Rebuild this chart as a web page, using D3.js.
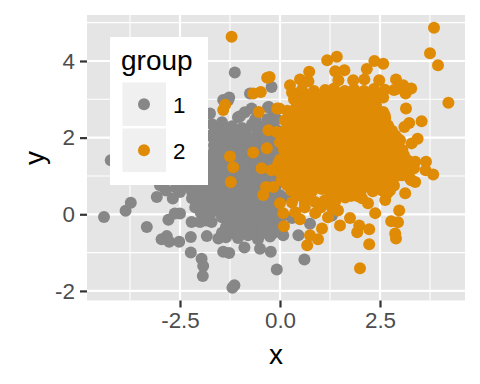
<!DOCTYPE html>
<html>
<head>
<meta charset="utf-8">
<script src="https://cdn.jsdelivr.net/npm/d3@7"></script>
<style>
  body { margin: 0; background: #fff; }
  text { font-family: "Liberation Sans", Arial, sans-serif; }
</style>
</head>
<body>
<div id="chart"></div>
<script>
const width = 480, height = 384;

const xTicks = [-2.5, 0, 2.5];
const xTickLabels = ["-2.5", "0.0", "2.5"];
const xMinor = [-3.75, -1.25, 1.25, 3.75];
const yTicks = [-2, 0, 2, 4];
const yTickLabels = ["-2", "0", "2", "4"];
const yMinor = [-1, 1, 3, 5];
const groups = ["1", "2"];
const colors = ["#878787", "#E08B05"];

// [x, y]
const group1 = [
  [-4.40, -0.07], [-4.23, 1.41], [-3.86, 0.09], [-3.73, 0.30], [-3.33, -0.33], [-3.08, 0.45],
  [-2.96, -0.65], [-2.83, -0.57], [-2.77, -0.72], [-2.52, -0.72], [-2.68, 0.41], [-2.79, -0.14],
  [-2.63, 0.02], [-2.50, 0.02], [-2.23, -0.59], [-2.23, -1.00], [-1.96, -1.16], [-1.92, -1.35],
  [-1.93, -1.61], [-1.14, -1.85], [-1.19, -1.92], [-1.42, -0.98], [-1.27, -1.01], [-0.89, -0.87],
  [-0.50, -0.90], [-0.23, -0.98], [-0.08, -1.44], [0.61, -1.18], [0.08, -0.55], [0.46, -0.55],
  [-1.13, 3.70], [-0.21, 3.32], [-0.75, 3.15], [-1.27, 3.05], [-1.42, 2.98], [-0.28, 2.80],
  [-0.71, 2.76], [-1.00, 2.56], [-0.21, 2.51], [-1.75, 2.63], [-1.30, 2.97], [-0.88, 2.66],
  [-0.30, 2.79], [-0.18, 2.51], [-1.05, 2.53],
  [-2.90, 0.70], [-3.00, 0.76],
  [-1.70, 2.35], [-1.45, 2.40], [-1.20, 2.30], [-0.95, 2.25], [-0.70, 2.35], [-0.45, 2.30], [-0.20, 2.25],
  [-0.62, 2.48], [-0.32, 2.48], [-0.08, 2.48],
  [-1.62, 2.20], [-1.38, 2.20], [-1.12, 2.20], [-0.85, 2.20], [-0.58, 2.20], [-0.32, 2.20], [-0.08, 2.20],
  [-1.75, 2.05], [-1.50, 2.10], [-1.25, 2.00], [-1.00, 2.05], [-0.75, 1.98], [-0.50, 2.05], [-0.25, 1.95], [0.00, 2.05],
  [-1.62, 1.92], [-1.38, 1.92], [-1.12, 1.92], [-0.88, 1.92], [-0.62, 1.92], [-0.38, 1.92], [-0.12, 1.92],
  [-1.65, 1.80], [-1.40, 1.75], [-1.15, 1.82], [-0.90, 1.75], [-0.65, 1.80], [-0.40, 1.72], [-0.15, 1.78],
  [-1.65, 1.65], [-1.40, 1.65], [-1.14, 1.65], [-0.88, 1.65], [-0.62, 1.65], [-0.38, 1.65], [-0.12, 1.65],
  [-1.75, 1.50], [-1.50, 1.55], [-1.25, 1.48], [-1.00, 1.52], [-0.75, 1.45], [-0.50, 1.50], [-0.25, 1.45], [0.00, 1.50],
  [-1.85, 1.38], [-1.62, 1.38], [-1.38, 1.38], [-1.12, 1.38], [-0.88, 1.38], [-0.62, 1.38], [-0.38, 1.38], [-0.12, 1.38],
  [-1.85, 1.25], [-1.60, 1.28], [-1.35, 1.20], [-1.10, 1.25], [-0.85, 1.20], [-0.60, 1.25], [-0.35, 1.18], [-0.10, 1.22],
  [-2.15, 1.12], [-1.92, 1.12], [-1.68, 1.12], [-1.42, 1.12], [-1.18, 1.12], [-0.92, 1.12], [-0.68, 1.12], [-0.42, 1.12], [-0.18, 1.12],
  [-2.30, 1.00], [-2.05, 1.02], [-1.80, 0.98], [-1.55, 1.02], [-1.30, 0.98], [-1.05, 1.00], [-0.80, 0.96], [-0.55, 1.00], [-0.30, 0.95], [-0.05, 1.00],
  [-2.40, 0.85], [-2.18, 0.85], [-1.92, 0.85], [-1.68, 0.85], [-1.42, 0.85], [-1.18, 0.85], [-0.92, 0.85], [-0.68, 0.85], [-0.42, 0.85], [-0.18, 0.85],
  [-2.85, 0.62], [-2.60, 0.70], [-2.35, 0.75], [-2.10, 0.72], [-1.85, 0.74], [-1.60, 0.70], [-1.35, 0.75], [-1.10, 0.68], [-0.85, 0.74], [-0.60, 0.70], [-0.35, 0.72], [-0.10, 0.74],
  [-2.50, 0.58], [-2.20, 0.58], [-1.98, 0.58], [-1.72, 0.58], [-1.48, 0.58], [-1.22, 0.58], [-0.98, 0.58], [-0.72, 0.58], [-0.48, 0.58], [-0.22, 0.58],
  [-2.20, 0.42], [-1.95, 0.46], [-1.70, 0.42], [-1.45, 0.47], [-1.20, 0.42], [-0.95, 0.46], [-0.70, 0.42], [-0.45, 0.46], [-0.20, 0.42], [0.00, 0.50],
  [-2.08, 0.30], [-1.82, 0.30], [-1.55, 0.30], [-1.28, 0.30], [-1.02, 0.30], [-0.78, 0.30], [-0.52, 0.30], [-0.28, 0.30], [-0.05, 0.30],
  [-2.12, 0.18], [-1.90, 0.22], [-1.60, 0.16], [-1.35, 0.20], [-1.10, 0.15], [-0.85, 0.20], [-0.60, 0.14], [-0.35, 0.20], [-0.10, 0.15],
  [-1.98, 0.04], [-1.72, 0.04], [-1.48, 0.04], [-1.22, 0.04], [-0.98, 0.04], [-0.72, 0.04], [-0.48, 0.04], [-0.22, 0.04], [0.00, 0.04],
  [-2.21, -0.20], [-2.00, -0.20], [-1.71, -0.20], [-1.85, -0.16], [-1.45, -0.08], [-1.20, -0.10], [-0.95, -0.06], [-0.70, -0.12], [-0.40, -0.06], [-0.15, -0.10], [0.05, -0.05],
  [-1.30, -0.20], [-1.05, -0.20], [-0.82, -0.20], [-0.55, -0.20], [-0.28, -0.20], [-0.02, -0.20],
  [-1.35, -0.33], [-1.10, -0.36], [-0.85, -0.30], [-0.60, -0.38], [-0.30, -0.32], [-0.05, -0.30],
  [-1.45, -0.48], [-1.20, -0.48], [-0.95, -0.48], [-0.68, -0.48], [-0.42, -0.48], [-0.15, -0.48],
  [-1.83, -0.57], [-1.54, -0.63], [-1.35, -0.60], [-1.05, -0.62], [-0.80, -0.55], [-0.55, -0.65], [-0.25, -0.58],
  [0.75, -0.25], [1.05, 0.27], [1.30, -0.03], [0.20, 0.45], [0.55, 0.65], [0.30, -0.10]
];

const group2 = [
  [-1.21, 4.63], [-0.32, 3.56], [-0.26, 3.58], [-0.67, 3.15], [-0.48, 3.19], [-1.37, 2.86], [-1.42, 2.72],
  [-0.53, 2.67], [-0.29, 2.19], [-0.07, 2.76], [-1.25, 1.51], [-1.17, 1.23], [-1.23, 0.84], [-0.67, 1.61],
  [-0.33, 1.72], [-0.46, 1.20], [-0.21, 1.15], [-0.35, 0.71], [-0.17, 0.71], [-0.42, 0.50], [0.04, 0.88], [0.18, 0.80],
  [-0.08, 2.15], [0.00, 1.88], [-0.05, 1.30], [0.00, 1.10],
  [3.85, 4.87], [3.75, 4.20], [3.95, 3.89], [4.21, 2.91], [3.15, 2.76], [3.54, 2.43], [3.23, 2.38], [3.11, 2.28],
  [3.44, 1.97], [3.29, 1.85], [3.65, 1.37], [3.38, 1.37], [3.64, 1.15], [3.83, 1.04], [3.25, 0.94], [3.38, 0.84],
  [1.42, 4.11], [1.18, 4.02], [2.36, 4.00], [2.58, 3.93], [2.17, 3.79], [0.73, 3.72], [1.38, 3.73], [1.61, 3.76],
  [0.50, 3.52], [0.25, 3.37], [0.71, 3.47], [1.46, 3.50], [1.83, 3.50], [2.11, 3.52], [2.48, 3.50], [2.90, 3.52],
  [2.85, 3.24], [2.95, 3.28], [3.08, 3.37], [3.28, 3.28], [3.14, 3.15], [2.58, 3.05], [1.13, 3.24], [0.79, 3.13],
  [0.57, 3.15], [0.35, 3.00], [-0.02, 2.76], [2.58, 2.67], [2.63, 2.50], [3.00, 1.93],
  [0.00, 0.29], [0.08, 0.03], [0.10, -0.31], [0.30, 0.31], [0.38, 0.05], [0.50, -0.13], [0.75, -0.55], [0.95, -0.65],
  [0.68, -0.81], [1.05, -0.37], [1.20, -0.08], [0.88, 0.03], [1.45, 0.10], [1.50, -0.29], [1.75, -0.10], [1.98, -0.29],
  [1.93, -0.47], [2.23, -0.39], [2.23, -0.78], [2.00, -1.41], [2.38, 0.03], [2.20, 0.29], [2.05, 0.42], [2.63, 0.37],
  [2.68, 0.55], [3.13, 0.55], [2.98, 0.10], [2.95, -0.21], [2.78, -0.18], [2.88, -0.50], [2.90, -0.63], [3.28, 0.89],
  [1.63, 0.44],
  [0.30, 3.18], [0.55, 3.25], [0.85, 3.22], [1.35, 3.28], [1.62, 3.22], [1.85, 3.26], [2.10, 3.22], [2.35, 3.27], [2.62, 3.25],
  [0.60, 3.02], [0.85, 3.05], [1.10, 3.08], [1.40, 3.10], [1.65, 3.08], [1.90, 3.12], [2.15, 3.08], [2.40, 3.10],
  [1.00, 2.98], [1.28, 3.02], [1.52, 2.96], [1.78, 3.00], [2.02, 2.95], [2.28, 3.00], [0.55, 2.95], [0.80, 2.90],
  [0.42, 2.85], [0.68, 2.85], [0.92, 2.85], [1.16, 2.85], [1.40, 2.85], [1.65, 2.85], [1.90, 2.85], [2.14, 2.85], [2.40, 2.85],
  [0.18, 2.70], [0.38, 2.74], [0.62, 2.68], [0.88, 2.75], [1.12, 2.68], [1.36, 2.74], [1.62, 2.70], [1.86, 2.76], [2.12, 2.68], [2.36, 2.74],
  [0.22, 2.58], [0.46, 2.58], [0.72, 2.58], [0.96, 2.58], [1.20, 2.58], [1.44, 2.58], [1.70, 2.58], [1.94, 2.58], [2.18, 2.58], [2.44, 2.58], [2.62, 2.58],
  [0.12, 2.45], [0.32, 2.48], [0.56, 2.42], [0.82, 2.50], [1.06, 2.44], [1.32, 2.50], [1.56, 2.43], [1.82, 2.48], [2.06, 2.42], [2.30, 2.48], [2.52, 2.42],
  [0.22, 2.32], [0.48, 2.32], [0.72, 2.32], [0.96, 2.32], [1.22, 2.32], [1.46, 2.32], [1.70, 2.32], [1.96, 2.32], [2.20, 2.32], [2.46, 2.32], [2.70, 2.32],
  [0.14, 2.20], [0.36, 2.16], [0.62, 2.22], [0.86, 2.17], [1.12, 2.23], [1.36, 2.16], [1.62, 2.22], [1.86, 2.16], [2.12, 2.22], [2.36, 2.17], [2.62, 2.22], [2.80, 2.18],
  [0.18, 2.06], [0.44, 2.06], [0.68, 2.06], [0.94, 2.06], [1.18, 2.06], [1.44, 2.06], [1.68, 2.06], [1.94, 2.06], [2.18, 2.06], [2.44, 2.06], [2.68, 2.06], [2.88, 2.06],
  [0.06, 1.94], [0.30, 1.90], [0.56, 1.96], [0.80, 1.90], [1.06, 1.96], [1.30, 1.90], [1.56, 1.96], [1.80, 1.90], [2.06, 1.96], [2.30, 1.90], [2.56, 1.96], [2.80, 1.90], [2.94, 1.98],
  [0.20, 1.80], [0.44, 1.80], [0.70, 1.80], [0.94, 1.80], [1.20, 1.80], [1.44, 1.80], [1.70, 1.80], [1.94, 1.80], [2.20, 1.80], [2.44, 1.80], [2.70, 1.80], [2.94, 1.80],
  [0.10, 1.68], [0.36, 1.64], [0.60, 1.70], [0.86, 1.64], [1.10, 1.70], [1.36, 1.64], [1.60, 1.70], [1.86, 1.64], [2.10, 1.70], [2.36, 1.64], [2.60, 1.70], [2.86, 1.66], [3.06, 1.68],
  [0.14, 1.54], [0.38, 1.54], [0.64, 1.54], [0.88, 1.54], [1.14, 1.54], [1.38, 1.54], [1.64, 1.54], [1.88, 1.54], [2.14, 1.54], [2.38, 1.54], [2.64, 1.54], [2.90, 1.54], [3.10, 1.54],
  [0.00, 1.42], [0.26, 1.38], [0.50, 1.44], [0.76, 1.38], [1.00, 1.44], [1.26, 1.38], [1.50, 1.44], [1.76, 1.38], [2.00, 1.44], [2.26, 1.38], [2.50, 1.44], [2.76, 1.38], [3.00, 1.44], [3.20, 1.40],
  [0.12, 1.28], [0.38, 1.28], [0.62, 1.28], [0.88, 1.28], [1.12, 1.28], [1.38, 1.28], [1.62, 1.28], [1.88, 1.28], [2.12, 1.28], [2.38, 1.28], [2.62, 1.28], [2.88, 1.28], [3.12, 1.28],
  [0.10, 1.16], [0.36, 1.12], [0.60, 1.18], [0.86, 1.12], [1.10, 1.18], [1.36, 1.12], [1.60, 1.18], [1.86, 1.12], [2.10, 1.18], [2.36, 1.12], [2.60, 1.18], [2.86, 1.12], [3.08, 1.16],
  [3.05, 1.02], [3.15, 1.10], [3.25, 1.25], [3.35, 1.20],
  [0.18, 1.02], [0.44, 1.02], [0.68, 1.02], [0.94, 1.02], [1.18, 1.02], [1.44, 1.02], [1.68, 1.02], [1.94, 1.02], [2.18, 1.02], [2.44, 1.02], [2.68, 1.02], [2.94, 1.02],
  [0.30, 0.88], [0.56, 0.92], [0.80, 0.86], [1.06, 0.92], [1.30, 0.86], [1.56, 0.92], [1.80, 0.86], [2.06, 0.92], [2.30, 0.86], [2.56, 0.92], [2.80, 0.86],
  [0.18, 0.76], [0.42, 0.76], [0.68, 0.76], [0.92, 0.76], [1.18, 0.76], [1.42, 0.76], [1.68, 0.76], [1.92, 0.76], [2.18, 0.76], [2.42, 0.76], [2.65, 0.76], [2.85, 0.75],
  [0.28, 0.62], [0.55, 0.66], [0.80, 0.60], [1.05, 0.66], [1.30, 0.60], [1.55, 0.66], [1.80, 0.60], [2.05, 0.66], [2.32, 0.60], [2.55, 0.62], [2.75, 0.62],
  [0.42, 0.48], [0.68, 0.48], [1.25, 0.48], [1.50, 0.48], [1.78, 0.48], [1.92, 0.48],
  [0.88, 0.32], [1.12, 0.36], [1.38, 0.34], [0.62, 0.30], [0.62, 0.18], [1.02, 0.18], [1.30, 0.18]
];

const svg = d3.select("#chart")
  .append("svg")
  .attr("width", width)
  .attr("height", height);

const panel = { left: 87, right: 465, top: 15, bottom: 300.5 };

const x = d3.scaleLinear().domain([-4.825, 4.625]).range([panel.left, panel.right]);
const y = d3.scaleLinear().domain([-2.25, 5.2]).range([panel.bottom, panel.top]);

svg.append("rect")
  .attr("x", panel.left)
  .attr("y", panel.top)
  .attr("width", panel.right - panel.left)
  .attr("height", panel.bottom - panel.top)
  .attr("fill", "#E5E5E5");

// grid lines
svg.selectAll(".vminor").data(xMinor).enter().append("line")
  .attr("x1", d => x(d)).attr("x2", d => x(d))
  .attr("y1", panel.top).attr("y2", panel.bottom)
  .attr("stroke", "#fff").attr("stroke-width", 1.1);
svg.selectAll(".hminor").data(yMinor).enter().append("line")
  .attr("x1", panel.left).attr("x2", panel.right)
  .attr("y1", d => y(d)).attr("y2", d => y(d))
  .attr("stroke", "#fff").attr("stroke-width", 1.1);
svg.selectAll(".vmajor").data(xTicks).enter().append("line")
  .attr("x1", d => x(d)).attr("x2", d => x(d))
  .attr("y1", panel.top).attr("y2", panel.bottom)
  .attr("stroke", "#fff").attr("stroke-width", 2.2);
svg.selectAll(".hmajor").data(yTicks).enter().append("line")
  .attr("x1", panel.left).attr("x2", panel.right)
  .attr("y1", d => y(d)).attr("y2", d => y(d))
  .attr("stroke", "#fff").attr("stroke-width", 2.2);

// points, group 1 under group 2
[group1, group2].forEach((pts, i) => {
  svg.append("g").selectAll("circle")
    .data(pts)
    .enter()
    .append("circle")
    .attr("cx", d => x(d[0]))
    .attr("cy", d => y(d[1]))
    .attr("r", 6)
    .attr("fill", colors[i]);
});

// axes
const xAxis = svg.append("g")
  .attr("transform", `translate(0,${panel.bottom})`)
  .call(d3.axisBottom(x).tickValues(xTicks).tickFormat((d, i) => xTickLabels[i]).tickSize(7).tickPadding(5));
const yAxis = svg.append("g")
  .attr("transform", `translate(${panel.left},0)`)
  .call(d3.axisLeft(y).tickValues(yTicks).tickFormat((d, i) => yTickLabels[i]).tickSize(7).tickPadding(5));

[xAxis, yAxis].forEach(a => {
  a.select(".domain").remove();
  a.selectAll("line").attr("stroke", "#333").attr("stroke-width", 2.2);
  a.selectAll("text").attr("fill", "#4D4D4D").attr("font-size", 22.4)
    .attr("font-family", "Liberation Sans");
});

// axis titles
svg.append("text").attr("x", 276).attr("y", 364)
  .attr("text-anchor", "middle").attr("font-size", 28).text("x");
svg.append("text").attr("transform", "translate(44,158) rotate(-90)")
  .attr("text-anchor", "middle").attr("font-size", 28).text("y");

// legend
const legend = svg.append("g");
legend.append("rect")
  .attr("x", 110).attr("y", 37).attr("width", 98).attr("height", 148)
  .attr("fill", "#fff");
legend.append("text").attr("x", 121).attr("y", 70)
  .attr("font-size", 28).text("group");

groups.forEach((g, i) => {
  const top = 82.5 + i * 46;
  legend.append("rect")
    .attr("x", 122.5).attr("y", top).attr("width", 43.5).attr("height", 43.5)
    .attr("fill", "#F0F0F0");
  legend.append("circle")
    .attr("cx", 144).attr("cy", top + 21.7).attr("r", 6)
    .attr("fill", colors[i]);
  legend.append("text").attr("x", 173).attr("y", top + 30)
    .attr("font-size", 22.4).text(g);
});
</script>
</body>
</html>
